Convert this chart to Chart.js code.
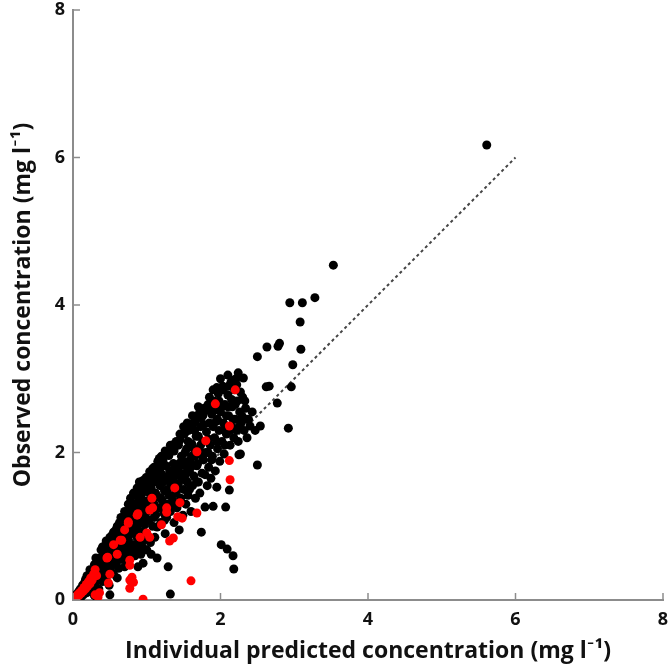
<!DOCTYPE html>
<html>
<head>
<meta charset="utf-8">
<script src="https://cdn.jsdelivr.net/npm/chart.js@4"></script>
<style>
  html, body { margin: 0; padding: 0; background: #fff; }
  #wrap { width: 670px; height: 668px; }
</style>
</head>
<body>
<div id="wrap"><canvas id="chart"></canvas></div>
<script>
// observed vs individual predicted, [x, y] in mg/l
const blackPts = [
  [0.02,0.01],[0.04,0.03],[0.05,0.08],[0.07,0.05],[0.08,0.12],[0.1,0.06],[0.1,0.15],[0.12,0.1],[0.13,0.2],[0.15,0.13],
  [0.16,0.24],[0.18,0.18],[0.19,0.1],[0.2,0.28],[0.21,0.2],[0.22,0.14],[0.24,0.33],[0.25,0.25],[0.26,0.18],[0.27,0.4],
  [0.28,0.3],[0.29,0.06],[0.3,0.22],[0.31,0.45],[0.32,0.36],[0.33,0.28],[0.34,0.5],[0.35,0.15],[0.36,0.41],[0.37,0.33],
  [0.38,0.58],[0.39,0.47],[0.4,0.25],[0.41,0.38],[0.42,0.63],[0.43,0.52],[0.44,0.44],[0.45,0.3],[0.46,0.7],[0.47,0.57],
  [0.48,0.48],[0.49,0.2],[0.5,0.65],[0.5,0.07],[0.51,0.4],[0.52,0.78],[0.53,0.55],[0.54,0.62],[0.55,0.35],[0.56,0.84],
  [0.57,0.7],[0.58,0.5],[0.59,0.6],[0.6,0.9],[0.61,0.75],[0.62,0.43],[0.63,0.67],[0.64,0.95],[0.65,0.55],[0.66,0.82],
  [0.67,0.72],[0.68,1.02],[0.69,0.6],[0.7,0.88],[0.71,0.77],[0.72,1.1],[0.73,0.95],[0.74,0.5],[0.75,0.82],[0.76,1.17],
  [0.77,0.68],[0.78,1.0],[0.79,0.9],[0.8,1.22],[0.81,0.75],[0.82,1.08],[0.83,0.95],[0.84,0.6],[0.85,1.3],[0.86,1.15],
  [0.87,0.85],[0.88,1.02],[0.89,1.38],[0.9,0.7],[0.91,1.2],[0.92,0.92],[0.93,1.1],[0.94,1.45],[0.95,0.8],[0.96,1.28],
  [0.97,1.02],[0.98,1.55],[0.99,1.18],[1.0,0.9],[1.0,1.53],[1.02,1.35],[1.03,1.08],[1.04,1.74],[1.05,1.22],[1.06,0.62],
  [1.07,1.45],[1.08,1.0],[1.09,1.6],[1.1,1.3],[1.11,0.85],[1.12,1.15],[1.13,1.68],[1.14,0.57],[1.14,0.99],[1.15,1.4],
  [1.16,1.82],[1.17,1.25],[1.18,1.55],[1.19,1.05],[1.2,1.71],[1.21,1.35],[1.22,1.9],[1.23,1.18],[1.24,1.48],[1.25,0.9],
  [1.26,1.62],[1.27,1.3],[1.28,2.0],[1.29,0.45],[1.3,1.42],[1.31,1.75],[1.32,0.08],[1.32,1.2],[1.33,1.55],[1.34,2.08],
  [1.35,1.35],[1.36,1.85],[1.37,1.05],[1.38,1.68],[1.39,1.45],[1.4,2.15],[1.41,1.25],[1.42,1.78],[1.43,1.58],[1.44,0.95],
  [1.45,2.17],[1.46,1.38],[1.47,1.95],[1.48,1.65],[1.49,1.15],[1.5,1.5],[1.51,2.25],[1.52,1.82],[1.53,1.3],[1.54,2.05],
  [1.55,1.6],[1.56,1.42],[1.57,2.3],[1.58,1.75],[1.59,1.9],[1.6,1.2],[1.61,2.12],[1.62,1.55],[1.63,2.4],[1.64,1.68],
  [1.65,1.95],[1.66,1.38],[1.67,2.22],[1.68,1.82],[1.69,2.5],[1.7,1.6],[1.71,2.05],[1.72,1.45],[1.73,2.35],[1.74,0.92],
  [1.74,2.47],[1.75,1.72],[1.76,2.15],[1.77,1.9],[1.78,2.6],[1.79,1.26],[1.8,2.0],[1.81,2.28],[1.82,1.55],[1.83,2.65],
  [1.84,1.8],[1.85,2.4],[1.86,2.1],[1.87,1.65],[1.88,2.52],[1.89,1.95],[1.9,1.27],[1.91,2.7],[1.92,2.2],[1.93,1.75],
  [1.94,2.42],[1.95,1.53],[1.96,2.05],[1.97,2.8],[1.98,2.3],[1.99,1.88],[2.0,2.55],[2.01,0.75],[2.02,2.15],[2.03,2.9],
  [2.04,2.4],[2.05,1.98],[2.06,2.65],[2.07,1.26],[2.08,2.25],[2.09,0.69],[2.1,2.78],[2.11,2.5],[2.12,1.49],[2.13,2.1],
  [2.14,2.95],[2.15,2.35],[2.16,2.62],[2.17,0.6],[2.18,0.42],[2.18,2.2],[2.19,2.85],[2.2,2.45],[2.21,3.0],[2.22,2.3],
  [2.23,2.7],[2.24,3.08],[2.25,1.97],[2.26,2.55],[2.27,1.98],[2.28,2.4],[2.3,2.75],[2.31,3.01],[2.32,2.3],[2.34,2.6],
  [2.36,2.2],[2.38,2.45],[2.4,2.36],[2.43,2.55],[2.47,2.3],[2.5,1.83],[2.5,3.3],[2.54,2.36],[2.62,2.89],[2.63,3.43],
  [2.66,2.9],[2.77,2.67],[2.78,3.44],[2.8,3.48],[2.92,2.33],[2.94,4.03],[2.96,2.89],[2.98,3.19],[3.08,3.77],[3.09,3.4],
  [3.11,4.03],[3.28,4.1],[3.53,4.54],[5.61,6.17],
  [0.23,0.41],[0.27,0.22],[0.31,0.57],[0.35,0.3],[0.38,0.68],[0.41,0.5],[0.44,0.74],[0.47,0.38],[0.53,0.88],[0.55,0.48],
  [0.58,0.95],[0.6,0.72],[0.36,0.52],[0.29,0.48],[0.43,0.6],[0.52,0.67],[0.63,1.05],[0.66,0.68],[0.69,1.12],[0.71,0.92],
  [0.73,0.62],[0.76,1.05],[0.79,1.3],[0.81,0.98],[0.83,1.42],[0.86,0.75],[0.88,1.28],[0.91,1.05],[0.93,1.58],[0.95,1.35],
  [0.97,0.92],[0.99,1.66],[0.62,0.88],[0.68,0.8],[0.74,1.2],[0.85,1.1],[0.9,1.48],[0.96,1.15],[1.02,1.58],[1.04,1.3],
  [1.06,1.52],[1.08,1.78],[1.1,1.12],[1.12,1.45],[1.15,1.62],[1.17,1.92],[1.19,1.38],[1.22,1.6],[1.24,1.08],[1.26,1.82],
  [1.28,1.5],[1.3,1.96],[1.33,1.3],[1.35,1.65],[1.37,2.02],[1.39,1.78],[1.41,1.5],[1.43,2.1],[1.46,1.72],[1.48,1.9],
  [1.03,1.46],[1.11,1.72],[1.21,1.25],[1.29,1.68],[1.36,1.55],[1.44,1.85],[1.27,1.12],[1.18,1.78],[1.52,2.0],[1.54,1.72],
  [1.56,2.15],[1.58,1.5],[1.6,2.32],[1.62,1.82],[1.64,2.05],[1.66,2.42],[1.68,1.6],[1.7,2.22],[1.72,2.55],[1.75,1.95],
  [1.77,2.38],[1.79,1.7],[1.81,2.58],[1.84,2.18],[1.86,2.62],[1.88,1.9],[1.9,2.35],[1.93,2.58],[1.95,2.15],[1.98,2.7],
  [1.53,1.62],[1.61,1.95],[1.69,1.85],[1.76,2.5],[1.83,2.0],[1.9,2.85],[1.57,1.88],[1.65,2.3],[1.73,2.1],[1.96,2.45],
  [2.02,2.62],[2.04,2.85],[2.06,2.1],[2.08,2.5],[2.11,2.9],[2.13,2.3],[2.15,2.72],[2.17,2.45],[2.2,2.65],[2.22,2.92],
  [2.25,2.35],[2.27,2.82],[2.29,2.5],[2.33,2.7],[2.35,2.45],[2.05,2.3],[2.1,2.62],[2.18,2.98],[2.24,2.15],
  [0.06,0.02],[0.11,0.04],[0.14,0.07],[0.17,0.28],[0.19,0.33],[0.25,0.12],[0.32,0.1],
  [0.6,1.0],[0.65,1.12],[0.7,1.2],[0.75,1.3],[0.78,1.38],[0.82,1.45],[0.87,1.52],[0.9,1.6],[0.95,1.62],[1.05,1.68],
  [1.1,1.8],[1.15,1.88],[1.2,1.95],[1.25,2.02],[1.32,2.1],[1.38,2.12],[1.45,2.25],[1.5,2.35],[1.55,2.4],[0.5,0.85],
  [0.45,0.8],[0.4,0.72],[0.55,0.92],[1.62,2.5],[1.7,2.62],[1.85,2.75],[1.95,2.88],[2.0,3.0],[2.1,3.05],
  [0.85,0.65],[0.95,0.7],[1.05,0.78],[0.7,0.45],[0.6,0.3],[0.95,0.5],[0.88,0.45],[1.0,0.68],[0.92,0.62]
];

const redPts = [
  [0.01,0.01],[0.03,0.02],[0.05,0.04],[0.06,0.07],[0.08,0.06],[0.09,0.1],[0.11,0.09],[0.12,0.13],[0.14,0.12],[0.15,0.17],
  [0.17,0.15],[0.18,0.21],[0.2,0.19],[0.21,0.25],[0.23,0.22],[0.24,0.3],[0.26,0.27],[0.28,0.35],[0.3,0.41],[0.3,0.07],
  [0.32,0.33],[0.34,0.04],[0.36,0.1],[0.46,0.57],[0.47,0.58],[0.48,0.23],[0.5,0.35],[0.55,0.75],[0.6,0.62],[0.64,0.81],
  [0.66,0.81],[0.7,0.95],[0.75,1.04],[0.75,1.06],[0.77,0.47],[0.77,0.54],[0.77,0.27],[0.77,0.16],[0.8,0.31],[0.82,0.24],
  [0.87,1.15],[0.88,1.17],[0.91,0.85],[0.95,0.01],[1.0,0.91],[1.04,1.22],[1.04,0.85],[1.07,1.38],[1.08,1.25],[1.2,1.02],
  [1.27,1.19],[1.27,1.25],[1.31,0.8],[1.36,0.84],[1.38,1.52],[1.42,1.13],[1.45,1.32],[1.48,1.11],[1.6,0.26],[1.68,2.01],
  [1.68,1.18],[1.8,2.16],[1.93,2.66],[2.12,2.36],[2.12,1.89],[2.13,1.63],[2.2,2.85]
];

const refX = [0, 6];
const refY = [0, 6];
const tickVals = [0, 2, 4, 6, 8];

const axisGray = '#8c8c8c';

const innerTicks = {
  id: 'innerTicks',
  afterDraw(chart) {
    const ctx = chart.ctx;
    const area = chart.chartArea;
    const sx = chart.scales.x, sy = chart.scales.y;
    ctx.save();
    ctx.strokeStyle = axisGray;
    ctx.lineWidth = 1.5;
    sx.ticks.forEach(t => {
      const px = sx.getPixelForValue(t.value);
      ctx.beginPath(); ctx.moveTo(px, area.bottom); ctx.lineTo(px, area.bottom - 7); ctx.stroke();
    });
    sy.ticks.forEach(t => {
      const py = sy.getPixelForValue(t.value);
      ctx.beginPath(); ctx.moveTo(area.left, py); ctx.lineTo(area.left + 7, py); ctx.stroke();
    });
    ctx.restore();
  }
};

Chart.defaults.font.family = '"Open Sans", Lato, sans-serif';
Chart.defaults.color = '#111';

new Chart(document.getElementById('chart'), {
  type: 'scatter',
  data: {
    datasets: [
      {
        label: 'red',
        data: redPts.map(p => ({ x: p[0], y: p[1] })),
        backgroundColor: '#ff0000',
        borderWidth: 0,
        pointRadius: 4.5,
        order: 1
      },
      {
        label: 'black',
        data: blackPts.map(p => ({ x: p[0], y: p[1] })),
        backgroundColor: '#000',
        borderWidth: 0,
        pointRadius: 4.5,
        order: 2
      },
      {
        label: 'identity',
        data: refX.map((v, i) => ({ x: v, y: refY[i] })),
        showLine: true,
        borderColor: '#444',
        borderWidth: 2,
        borderDash: [3, 3],
        pointRadius: 0,
        order: 3
      }
    ]
  },
  options: {
    responsive: true,
    maintainAspectRatio: false,
    animation: false,
    layout: { padding: { top: 10, right: 7, left: 0, bottom: 0 } },
    plugins: { legend: { display: false }, tooltip: { enabled: false } },
    scales: {
      x: {
        min: 0, max: 8,
        afterBuildTicks: s => { s.ticks = tickVals.map(v => ({ value: v })); },
        afterFit: s => { s.height = 68; s.paddingLeft = 0; s.paddingRight = 0; },
        ticks: { font: { size: 18, weight: 'bold' }, padding: 9, color: '#111' },
        grid: { display: true, drawOnChartArea: false, drawTicks: false },
        border: { display: true, color: axisGray, width: 2 },
        title: {
          display: true,
          text: 'Individual predicted concentration (mg l\u207B\u00B9)',
          font: { size: 23, weight: 'bold' },
          color: '#111',
          padding: { top: 0, bottom: 3 }
        }
      },
      y: {
        min: 0, max: 8,
        afterBuildTicks: s => { s.ticks = tickVals.map(v => ({ value: v })); },
        afterFit: s => { s.width = 73; s.paddingTop = 0; s.paddingBottom = 0; },
        ticks: { font: { size: 18, weight: 'bold' }, padding: 8, color: '#111' },
        grid: { display: true, drawOnChartArea: false, drawTicks: false },
        border: { display: true, color: axisGray, width: 2 },
        title: {
          display: true,
          text: 'Observed concentration (mg l\u207B\u00B9)',
          font: { size: 23, weight: 'bold' },
          color: '#111',
          padding: { top: 10, bottom: 0 }
        }
      }
    }
  },
  plugins: [innerTicks]
});
</script>
</body>
</html>
